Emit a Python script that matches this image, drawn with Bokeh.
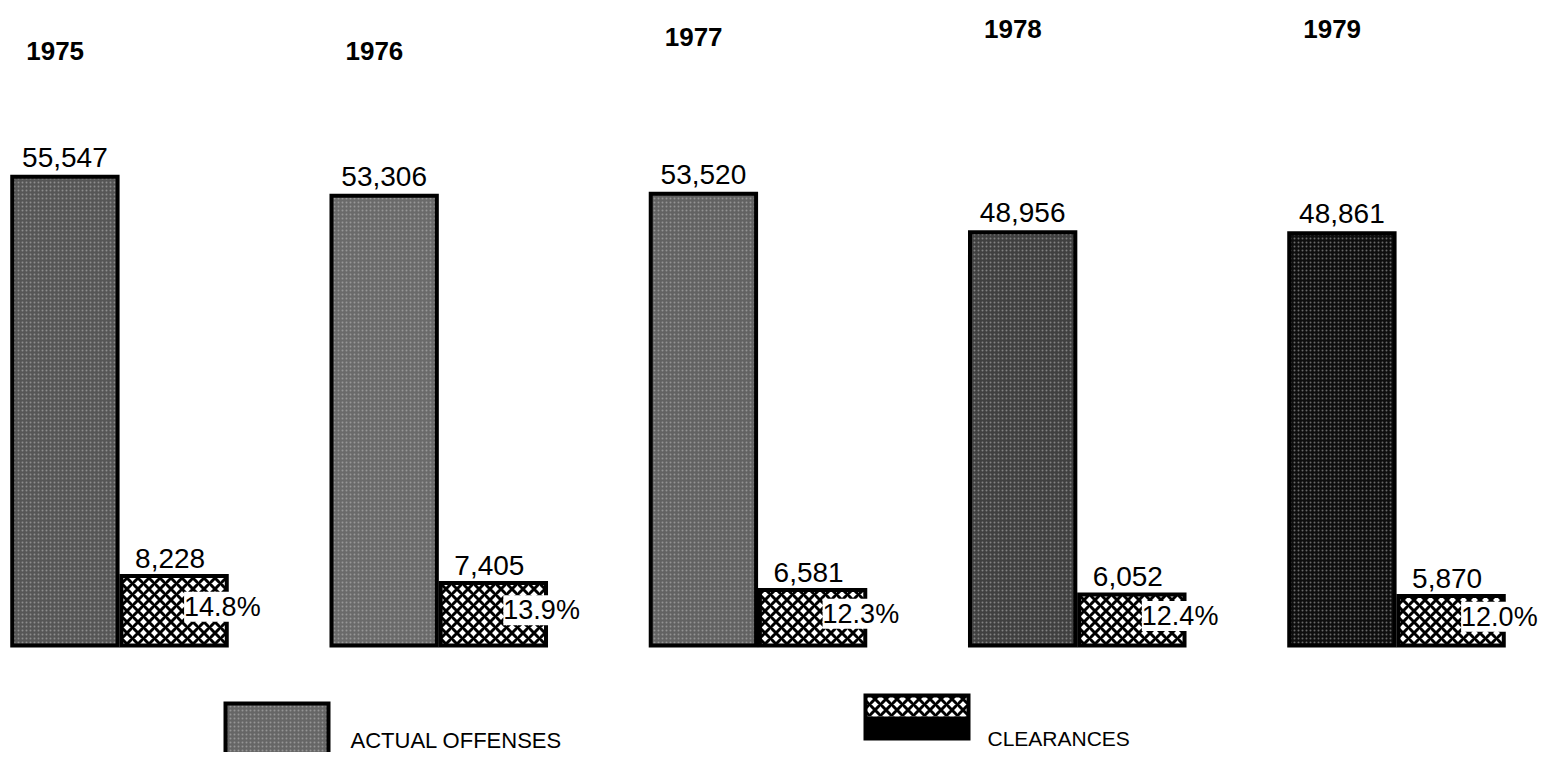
from bokeh.plotting import figure
from bokeh.models import ColumnDataSource, LabelSet, Range1d
from bokeh.core.properties import value
from bokeh.embed import file_html
from bokeh.resources import INLINE

# ---- data ----
years = ["1975", "1976", "1977", "1978", "1979"]
actual_offenses = [55547, 53306, 53520, 48956, 48861]
clearances = [8228, 7405, 6581, 6052, 5870]
clearance_pct = ["14.8%", "13.9%", "12.3%", "12.4%", "12.0%"]
offense_fill = ["#565656", "#6a6a6a", "#626262", "#404040", "#0e0e0e"]

# ---- layout (screen geometry) ----
W, H = 1542, 752
GROUP_PX = 319.25
G0_PX = 119.0
BASE_PX = 645.0
UNITS_PER_PX = 118.5
BAR_W = 0.33
OFF = 0.171
YEAR_PX = [50, 50, 36, 28, 28]

x_start = -G0_PX / GROUP_PX
x_end = x_start + W / GROUP_PX
y_end = BASE_PX * UNITS_PER_PX
y_start = -(H - BASE_PX) * UNITS_PER_PX


def px_x(px):
    return x_start + px / GROUP_PX


def px_y(py):
    return (BASE_PX - py) * UNITS_PER_PX


idx = list(range(len(years)))
src = ColumnDataSource(dict(
    tall_x=[i - OFF for i in idx],
    small_x=[i + OFF for i in idx],
    tall_left=[i - OFF - BAR_W / 2 for i in idx],
    actual=actual_offenses,
    clear=clearances,
    half=[c / 2 for c in clearances],
    actual_lbl=[f"{v:,}" for v in actual_offenses],
    clear_lbl=[f"{v:,}" for v in clearances],
    pct=clearance_pct,
    year=years,
    year_y=[px_y(py) for py in YEAR_PX],
    fill=offense_fill,
))

p = figure(width=W, height=H, x_range=Range1d(x_start, x_end),
           y_range=Range1d(y_start, y_end), output_backend="svg",
           toolbar_location=None, min_border=0,
           x_axis_location=None, y_axis_location=None)
p.grid.visible = False
p.outline_line_color = None
p.background_fill_color = "white"

FONT = value("Liberation Sans")

# Actual offenses bars
p.vbar(x="tall_x", top="actual", bottom=0, width=BAR_W, source=src,
       fill_color="fill", line_color="black", line_width=4, line_join="miter",
       hatch_pattern="dot", hatch_color="#c4c4c4", hatch_scale=4,
       hatch_weight=1, hatch_alpha=0.5)

# Clearances bars
p.vbar(x="small_x", top="clear", bottom=0, width=BAR_W, source=src,
       fill_color="white", line_color="black", line_width=4, line_join="miter",
       hatch_pattern="diagonal_cross", hatch_color="black", hatch_scale=11,
       hatch_weight=3)

# Value labels
p.text(x="tall_x", y="actual", text="actual_lbl", source=src,
       text_align="center", text_baseline="bottom", y_offset=-10,
       text_font=FONT, text_font_size="28px", text_color="black")
p.text(x="small_x", y="clear", text="clear_lbl", source=src,
       text_align="center", text_baseline="bottom", y_offset=-8, x_offset=-4,
       text_font=FONT, text_font_size="28px", text_color="black")

# Percent labels on white background
pct_labels = LabelSet(x="small_x", y="half", text="pct", source=src,
                      x_offset=10, y_offset=4, text_align="left",
                      text_baseline="middle", text_font=FONT,
                      text_font_size="27px", text_color="black",
                      background_fill_color="white")
p.add_layout(pct_labels)

# Year labels
p.text(x="tall_left", y="year_y", text="year", source=src, x_offset=14,
       text_align="left", text_baseline="middle", text_font=FONT,
       text_font_size="26px", text_font_style="bold", text_color="black")

# ---- legend (drawn manually) ----
p.quad(left=[px_x(225)], right=[px_x(328)], top=[px_y(703)], bottom=[px_y(775)],
       fill_color="#666666", line_color="black", line_width=4, line_join="miter",
       hatch_pattern="dot", hatch_color="#c4c4c4", hatch_scale=4,
       hatch_weight=1, hatch_alpha=0.5)
p.text(x=[px_x(350)], y=[px_y(740)], text=["ACTUAL OFFENSES"],
       text_align="left", text_baseline="middle", text_font=FONT,
       text_font_size="22px", text_color="black")

p.quad(left=[px_x(865)], right=[px_x(968)], top=[px_y(695)], bottom=[px_y(716)],
       fill_color="white", line_color=None, hatch_pattern="diagonal_cross",
       hatch_color="black", hatch_scale=11, hatch_weight=3)
p.quad(left=[px_x(865)], right=[px_x(968)], top=[px_y(716)], bottom=[px_y(738)],
       fill_color="black", line_color=None)
p.quad(left=[px_x(865)], right=[px_x(968)], top=[px_y(695)], bottom=[px_y(738)],
       fill_color=None, line_color="black", line_width=4, line_join="miter")
p.text(x=[px_x(987)], y=[px_y(738)], text=["CLEARANCES"],
       text_align="left", text_baseline="middle", text_font=FONT,
       text_font_size="21px", text_color="black")

open("out.html", "w").write(file_html(p, INLINE))
